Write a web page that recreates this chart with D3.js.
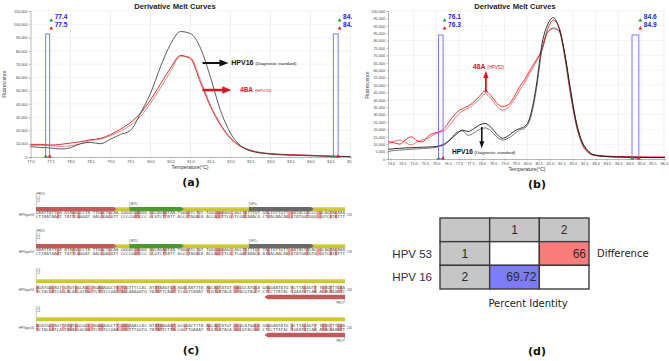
<!DOCTYPE html>
<html>
<head>
<meta charset="utf-8">
<script src="https://cdn.jsdelivr.net/npm/d3@7/dist/d3.min.js"></script>
<style>
  body { margin: 0; background: #fff; }
  svg { display: block; }
</style>
</head>
<body>
<div id="fig"></div>
<script>
// ---------- (a) melt curves, HPV16 standard vs 4BA ----------
const tempA = [77.0, 77.25, 77.5, 77.75, 78.0, 78.25, 78.5, 78.75, 79.0, 79.25, 79.5, 79.75, 80.0, 80.25, 80.5, 80.75, 81.0, 81.25, 81.5, 81.75, 82.0, 82.25, 82.5, 83.0, 83.5, 84.0, 84.5, 85.0];
const hpv16A = [7800, 7200, 6800, 6000, 7000, 10000, 11000, 10000, 13500, 17000, 20000, 33000, 48000, 68000, 85000, 94500, 93000, 82000, 60000, 35000, 18000, 8500, 4500, 2200, 1300, 900, 500, 300];
const hpv53A1 = [9500, 9500, 9000, 9500, 10500, 11500, 13000, 14000, 17000, 21000, 26000, 33000, 43000, 55000, 67000, 76500, 74000, 56000, 38000, 24000, 14000, 8000, 5000, 2500, 1800, 1300, 600, 300];
const hpv53A2 = [8800, 8800, 8500, 8000, 8500, 10000, 12500, 13500, 16000, 19500, 24000, 30500, 40500, 52000, 64500, 76000, 75000, 58000, 39000, 25000, 14500, 8500, 5200, 2400, 1600, 1200, 700, 300];
const cursorTempsA = [[77.38, 77.48], [84.57, 84.69]];
const cursorLabelsA = [["77.4", "77.5"], ["84.6", "84.7"]];

// ---------- (b) melt curves ----------
const tempB = [73.9, 74.15, 74.4, 74.65, 74.9, 75.15, 75.4, 75.65, 75.9, 76.15, 76.4, 76.65, 76.9, 77.15, 77.4, 77.65, 77.9, 78.15, 78.4, 78.65, 78.9, 79.15, 79.4, 79.65, 79.9, 80.15, 80.4, 80.65, 80.9, 81.15, 81.4, 81.65, 81.9, 82.15, 82.4, 82.65, 82.9, 83.4, 83.9, 84.4, 84.9, 85.4, 85.9, 86.05];
const hpv16B1 = [6500, 7000, 7200, 7500, 7600, 7800, 8000, 8100, 8300, 9000, 10500, 13500, 17000, 19500, 18500, 20500, 23000, 24000, 21500, 17000, 14000, 15500, 18500, 20500, 22000, 30000, 50000, 78000, 91000, 95500, 88000, 71000, 47000, 25000, 12000, 6000, 3000, 1800, 1400, 1200, 1100, 1000, 1000, 1000];
const hpv16B2 = [5000, 5800, 6000, 6300, 6600, 6800, 7000, 7300, 7600, 8500, 10000, 14000, 18000, 19000, 16000, 17500, 20000, 21000, 19000, 15000, 12800, 14000, 16500, 19500, 21000, 28000, 47000, 74000, 86000, 88500, 86500, 70000, 45000, 23000, 11000, 5500, 2800, 1600, 1300, 1100, 1000, 900, 900, 900];
const hpv53B1 = [11700, 11000, 10000, 13000, 15000, 12500, 11500, 15500, 17500, 18500, 21500, 27000, 31500, 34000, 35800, 38500, 42500, 46000, 43000, 38000, 35500, 36500, 41500, 48500, 54000, 61000, 67000, 74000, 88000, 93800, 89000, 70000, 45000, 25000, 11000, 5000, 2800, 2000, 1700, 1500, 1400, 1300, 1300, 1300];
const hpv53B2 = [10600, 12000, 12800, 11000, 9500, 11500, 13000, 14000, 16500, 18000, 19500, 24000, 29000, 32500, 34200, 37000, 40500, 44000, 41000, 36000, 33000, 34500, 39500, 46000, 52000, 59000, 66000, 74500, 85500, 88000, 86500, 68000, 43000, 23000, 10000, 4500, 2500, 1800, 1500, 1400, 1300, 1200, 1200, 1200];
const cursorTempsB = [[76.1, 76.3], [84.6, 84.9]];
const cursorLabelsB = [["76.1", "76.3"], ["84.6", "84.9"]];

// ---------- (c) alignment ----------
const seqNames = ["HPVtype53", "HPVtype53", "HPVtype53", "HPVtype16"];
const seqEnds = ["159", "159", "216", "216"];
const seqTop = [
  "GAATTATTCA ATAAGCCCTA TTGGCTGCAA GGGGCCAGGG GGCAGAATAA TGGGATCTGT TGGCGGAAGC AGCTATTTGT GACTGTTGTT GATACCACCC GCAGTACAAA",
  "GAATTATTCA ATAAGCCCTA TTGGCTGCAA GGGGCCAGGG GGCAGAATAA TGGGATCTGT TGGCGGAAGC AGCTATTTGT TACTGTTGTT GATACTACAC GCAGTACAAA",
  "AGATGGCAGT GTGTGGCAGC AGAGAGGCTA TGGTTTCCAC ATATAAGTCA AGGCAATTTA AGCAGTATGT GACGCATGGA GAGGAATATG ACTTACAGTT TGTGTTTCAA",
  "AGATGGCAGT ATGTGGCGCC AGAGAGGCTT GAGAAACCAC ATATAAGAAT GCGAACTTTA AGCAGTATGT GCGCATGGCG GAGGAATATG ACTTACAGTT TATGTTTCAA"
];
const seqMismatch = [
  [8, 14, 16, 25, 28, 38, 39, 44, 49, 58, 62, 69, 70, 71, 75, 80, 89, 97, 98, 104, 108, 109, 113, 115],
  [8, 14, 16, 25, 28, 38, 39, 44, 49, 58, 62, 69, 70, 71, 75, 80, 85, 89, 97, 98, 104, 108, 109, 113, 115],
  [0, 5, 6, 10, 12, 15, 19, 20, 21, 24, 25, 31, 32, 33, 34, 46, 47, 52, 53, 57, 66, 69, 70, 76, 77, 78, 84, 89, 98, 103, 107, 110, 111, 113, 116, 117],
  [0, 5, 6, 10, 12, 13, 15, 19, 20, 21, 24, 25, 31, 32, 33, 34, 35, 46, 47, 48, 52, 53, 57, 66, 69, 70, 76, 77, 78, 84, 85, 89, 98, 103, 107, 110, 111, 113, 116, 117]
];
const fwdFeatures = [
  { label: "PRO5", from: 0, to: 31, color: "#c25a5c" },
  { label: "MY11", from: 36, to: 57, color: "#4b9a2c" },
  { label: "GP5+", from: 82, to: 107, color: "#696969" }
];
const revFeature = { label: "PRO7", from: 88, to: 119, color: "#c25a5c" };

// ---------- (d) identity matrix ----------
const matCols = ["", "1", "2"];
const matRowNames = ["HPV 53", "HPV 16"];
const matRowIds = ["1", "2"];
const matValues = [[null, "66"], ["69.72", null]];

const svg = d3.select("#fig").append("svg")
  .attr("width", 669).attr("height", 361)
  .style("font-family", "'Liberation Sans', Arial, sans-serif");

function blockArrow(g, x1, y1, x2, y2, color, sw, hw, hl) {
  const L = Math.hypot(x2 - x1, y2 - y1), ux = (x2 - x1) / L, uy = (y2 - y1) / L;
  const px = -uy, py = ux, bx = x2 - ux * hl, by = y2 - uy * hl;
  const pts = [
    [x1 + px * sw / 2, y1 + py * sw / 2], [bx + px * sw / 2, by + py * sw / 2],
    [bx + px * hw / 2, by + py * hw / 2], [x2, y2],
    [bx - px * hw / 2, by - py * hw / 2], [bx - px * sw / 2, by - py * sw / 2],
    [x1 - px * sw / 2, y1 - py * sw / 2]];
  g.append("polygon").attr("points", pts.map(p => p.join(",")).join(" ")).attr("fill", color);
}

function tri(g, x, y, color) {
  g.append("path").attr("d", `M${x - 2},${y + 1.5}L${x + 2},${y + 1.5}L${x},${y - 1.8}Z`).attr("fill", color);
}

function meltChart(g, o) {
  const [y0, y1] = o.y.range();
  const [x0, x1] = o.x.range();
  g.append("text").attr("x", o.titleX).attr("y", 8.5).attr("text-anchor", "middle")
    .attr("font-size", 7.6).attr("font-weight", "bold").attr("fill", "#222").text("Derivative Melt Curves");

  // grid
  g.append("g").selectAll("line").data(o.gridX).join("line")
    .attr("x1", d => o.x(d)).attr("x2", d => o.x(d)).attr("y1", y1).attr("y2", y0)
    .attr("stroke", "#e8e8e8").attr("stroke-width", 0.6);
  g.append("g").selectAll("line").data(o.gridY).join("line")
    .attr("x1", x0).attr("x2", x1).attr("y1", d => o.y(d)).attr("y2", d => o.y(d))
    .attr("stroke", "#ededed").attr("stroke-width", 0.6);

  const ax = g.append("g").attr("transform", `translate(0,${y0})`)
    .call(d3.axisBottom(o.x).tickValues(o.xTicks).tickFormat(d3.format(".1f")).tickSize(1.5).tickPadding(1.5));
  const ay = g.append("g").attr("transform", `translate(${x0},0)`)
    .call(d3.axisLeft(o.y).tickValues(o.yTicks).tickFormat(d3.format(",")).tickSize(1.5).tickPadding(1.5));
  [ax, ay].forEach(a => {
    a.selectAll("text").attr("font-size", 3.8).attr("fill", "#444").attr("font-family", "'Liberation Sans', Arial");
    a.selectAll("line,path").attr("stroke", "#888").attr("stroke-width", 0.6);
  });

  g.append("text").attr("x", o.xTitleX).attr("y", y0 + 12).attr("text-anchor", "middle")
    .attr("font-size", 5).attr("fill", "#333").text("Temperature(°C)");
  g.append("text").attr("transform", `translate(${o.yTitleX},${(y0 + y1) / 2}) rotate(-90)`)
    .attr("text-anchor", "middle").attr("font-size", 4.5).attr("fill", "#333").text("Fluorescence");

  const line = d3.line().x(d => o.x(d[0])).y(d => o.y(d[1])).curve(d3.curveMonotoneX);
  o.series.forEach(s => {
    g.append("path").datum(d3.zip(o.temps, s.v)).attr("d", line)
      .attr("fill", "none").attr("stroke", s.color).attr("stroke-width", s.w || 0.9);
  });

  // melt cursors
  o.cursors.forEach((c, i) => {
    const xa = o.x(c[0]), xb = o.x(c[1]);
    g.append("rect").attr("x", xa).attr("y", o.boxTop).attr("width", xb - xa).attr("height", y0 - o.boxTop)
      .attr("fill", "none").attr("stroke", "#6a6aff").attr("stroke-width", 0.9);
    tri(g, xb + 1.5, 20, "#2ca02c");
    tri(g, xb + 1.5, 28, "#e02020");
    tri(g, xa, y0 - 1, "#2ca02c");
    tri(g, xb, y0 - 1, "#e02020");
    g.append("text").attr("x", xb + 5).attr("y", 18.5).attr("font-size", 6.6).attr("font-weight", "bold")
      .attr("fill", "#2323e6").text(o.cursorLabels[i][0]);
    g.append("text").attr("x", xb + 5).attr("y", 26.8).attr("font-size", 6.6).attr("font-weight", "bold")
      .attr("fill", "#2323e6").text(o.cursorLabels[i][1]);
  });
}

// ----- panel (a) -----
svg.append("defs").append("clipPath").attr("id", "clipA")
  .append("rect").attr("x", 0).attr("y", 0).attr("width", 352).attr("height", 176);
const gA = svg.append("g").attr("clip-path", "url(#clipA)");
const xA = d3.scaleLinear().domain([77, 85]).range([30.5, 350.5]);
const yA = d3.scaleLinear().domain([0, 110000]).range([157, 11]);
meltChart(gA, {
  x: xA, y: yA, temps: tempA, titleX: 175, xTitleX: 190, yTitleX: 6, boxTop: 34,
  xTicks: d3.range(77, 85.01, 0.5), yTicks: d3.range(0, 110001, 10000),
  gridX: d3.range(78, 85.01, 1), gridY: d3.range(10000, 110001, 10000),
  series: [
    { v: hpv53A2, color: "#e06666", w: 0.8 },
    { v: hpv53A1, color: "#c42424", w: 0.9 },
    { v: hpv16A, color: "#333", w: 0.8 }
  ],
  cursors: cursorTempsA, cursorLabels: cursorLabelsA
});
blockArrow(gA, xA(81.3), yA(70800), xA(81.95), yA(70800), "#111", 2, 7, 9);
blockArrow(gA, xA(81.3), yA(50500), xA(82.02), yA(50500), "#e0141e", 2.4, 7.5, 9);
gA.append("text").attr("x", xA(82.02)).attr("y", yA(69300)).attr("font-size", 7).attr("font-weight", "bold").attr("fill", "#111")
  .text("HPV16").append("tspan").attr("dx", 2).attr("font-size", 4.3).attr("font-weight", "normal").text("(Diagnostic standard)");
gA.append("text").attr("x", xA(82.24)).attr("y", yA(48600)).attr("font-size", 6.4).attr("font-weight", "bold").attr("fill", "#d01818")
  .text("4BA").append("tspan").attr("dx", 2).attr("font-size", 4.3).attr("font-weight", "normal").text("(HPV53)");

// ----- panel (b) -----
const gB = svg.append("g");
const xB = d3.scaleLinear().domain([73.88, 86.05]).range([388, 665]);
const yB = d3.scaleLinear().domain([0, 100000]).range([159, 11]);
meltChart(gB, {
  x: xB, y: yB, temps: tempB, titleX: 515, xTitleX: 527, yTitleX: 369, boxTop: 35,
  xTicks: d3.range(74, 86.01, 0.5), yTicks: d3.range(0, 100001, 5000),
  gridX: d3.range(75, 86.01, 1), gridY: d3.range(10000, 100001, 10000),
  series: [
    { v: hpv53B2, color: "#f05050", w: 0.8 },
    { v: hpv53B1, color: "#e8201c", w: 0.9 },
    { v: hpv16B2, color: "#555", w: 0.8 },
    { v: hpv16B1, color: "#1a1a1a", w: 0.9 }
  ],
  cursors: cursorTempsB, cursorLabels: cursorLabelsB
});
blockArrow(gB, xB(78.18), yB(45000), xB(78.18), yB(59500), "#e0141e", 1.8, 5.5, 7);
blockArrow(gB, xB(78.0), yB(21600), xB(78.0), yB(7200), "#111", 1.6, 5, 7);
gB.append("text").attr("x", xB(77.6)).attr("y", yB(60500)).attr("font-size", 7).attr("font-weight", "bold").attr("fill", "#d01818")
  .text("48A").append("tspan").attr("dx", 1.5).attr("font-size", 4.5).attr("font-weight", "normal").text("(HPV53)");
gB.append("text").attr("x", xB(76.69)).attr("y", yB(3400)).attr("font-size", 6.6).attr("font-weight", "bold").attr("fill", "#111")
  .text("HPV16").append("tspan").attr("dx", 1.5).attr("font-size", 4.3).attr("font-weight", "normal").text("(Diagnostic standard)");

// ----- panel labels -----
const panelLabels = [["(a)", 191, 186], ["(b)", 537, 188], ["(c)", 191, 354], ["(d)", 537, 355]];
svg.append("g").selectAll("text").data(panelLabels).join("text")
  .attr("x", d => d[1]).attr("y", d => d[2]).attr("text-anchor", "middle")
  .attr("font-family", "'DejaVu Sans', Verdana, sans-serif").attr("font-size", 11).attr("font-weight", "bold")
  .attr("fill", "#111").text(d => d[0]);

// ----- panel (c) -----
const comp = { A: "T", T: "A", G: "C", C: "G", " ": " " };
const seqX = d3.scaleLinear().domain([0, 119]).range([36, 345]);
const slotW = seqX(1) - seqX(0);
const barY = [209, 246, 281, 319];
const gC = svg.append("g").attr("font-family", "'DejaVu Sans Mono', monospace");

seqTop.forEach((s, i) => {
  const by = barY[i], fwd = i < 2;
  const t1 = fwd ? by + 4 : by + 6.5, t2 = t1 + 3.6;
  const g = gC.append("g");
  g.selectAll("rect").data(seqMismatch[i]).join("rect")
    .attr("x", d => seqX(d)).attr("width", slotW).attr("y", t1 - 2).attr("height", 7.4)
    .attr("fill", (d, k) => k % 3 === 1 ? "#f7b8b8" : "#f29a9a");
  // labels above the bar
  const tags = fwd ? ["PRO5", "L1", "L1"] : ["L1", "L1"];
  const tagTop = by - (fwd ? 16.5 : 13);
  g.append("line").attr("x1", seqX(0) + 0.3).attr("x2", seqX(0) + 0.3).attr("y1", tagTop).attr("y2", by)
    .attr("stroke", "#666").attr("stroke-width", 0.4);
  tags.forEach((tg, k) => {
    g.append("text").attr("x", seqX(0) + 1.2).attr("y", tagTop + 2.6 + k * 3.4).attr("font-size", 2.8)
      .attr("fill", "#444").attr("font-family", "'Liberation Sans', Arial").text(tg);
  });
  // main yellow feature
  g.append("rect").attr("x", seqX(0)).attr("y", by - 2).attr("width", seqX(119) - seqX(0)).attr("height", 4.2)
    .attr("fill", "#c9c62c");
  g.append("rect").attr("x", seqX(0)).attr("y", by - 2).attr("width", seqX(119) - seqX(0)).attr("height", 1.3)
    .attr("fill", "#dedb6a");
  if (fwd) {
    fwdFeatures.forEach((f, k) => {
      const xa = seqX(f.from), xb = seqX(f.to);
      g.append("path").attr("d", `M${xa},${by - 2}L${xb - 3},${by - 2}L${xb},${by + 0.1}L${xb - 3},${by + 2.2}L${xa},${by + 2.2}Z`)
        .attr("fill", f.color);
      if (k > 0) {
        g.append("line").attr("x1", xa + 0.3).attr("x2", xa + 0.3).attr("y1", by - 7).attr("y2", by - 2)
          .attr("stroke", "#666").attr("stroke-width", 0.4);
        g.append("text").attr("x", xa + 1.2).attr("y", by - 4.5).attr("font-size", 2.8)
          .attr("fill", "#444").attr("font-family", "'Liberation Sans', Arial").text(f.label);
      }
    });
  } else {
    const f = revFeature, xa = seqX(f.from), xb = seqX(f.to), ay = by + 16;
    g.append("path").attr("d", `M${xb},${ay - 2.2}L${xa + 3},${ay - 2.2}L${xa},${ay}L${xa + 3},${ay + 2.2}L${xb},${ay + 2.2}Z`)
      .attr("fill", f.color);
    g.append("line").attr("x1", xb - 0.3).attr("x2", xb - 0.3).attr("y1", ay + 2.2).attr("y2", ay + 5.5)
      .attr("stroke", "#666").attr("stroke-width", 0.4);
    g.append("text").attr("x", xb - 1).attr("y", ay + 7).attr("text-anchor", "end").attr("font-size", 2.8)
      .attr("fill", "#444").attr("font-family", "'Liberation Sans', Arial").text(f.label);
  }
  const bottom = s.split("").map(ch => comp[ch] || ch).join("");
  [[s, t1], [bottom, t2]].forEach(([str, ty]) => {
    g.append("text").attr("x", seqX(0)).attr("y", ty + 1.4).attr("font-size", 4.1)
      .attr("textLength", seqX(119) - seqX(0)).attr("lengthAdjust", "spacingAndGlyphs")
      .attr("fill", "#3a3a3a").text(str);
  });
  g.append("text").attr("x", 34).attr("y", (t1 + t2) / 2 + 1.2).attr("text-anchor", "end").attr("font-size", 3)
    .attr("fill", "#444").attr("font-family", "'Liberation Sans', Arial").text(seqNames[i]);
  g.append("text").attr("x", 347).attr("y", (t1 + t2) / 2 + 1.2).attr("font-size", 3)
    .attr("fill", "#444").attr("font-family", "'Liberation Sans', Arial").text(seqEnds[i]);
});

// ----- panel (d) -----
const gD = svg.append("g");
const colX = d3.scaleBand().domain(d3.range(3)).range([440, 589]);
const rowY = d3.scaleBand().domain(d3.range(3)).range([218, 289]);
const cells = [];
matCols.forEach((c, j) => cells.push({ r: 0, c: j, text: c, fill: "#c6c6c6", anchor: "middle" }));
matRowIds.forEach((id, i) => {
  cells.push({ r: i + 1, c: 0, text: id, fill: "#c6c6c6", anchor: "middle" });
  matValues[i].forEach((v, j) => {
    const fill = v === null ? "#fff" : (j > i ? "#fc7b7b" : "#7b7bfc");
    cells.push({ r: i + 1, c: j + 1, text: v || "", fill: fill, anchor: "end" });
  });
});
gD.selectAll("rect").data(cells).join("rect")
  .attr("x", d => colX(d.c)).attr("y", d => rowY(d.r))
  .attr("width", colX.bandwidth()).attr("height", rowY.bandwidth())
  .attr("fill", d => d.fill).attr("stroke", "#3c3c3c").attr("stroke-width", 1.4);
gD.selectAll("text.cell").data(cells).join("text").attr("class", "cell")
  .attr("x", d => d.anchor === "end" ? colX(d.c) + colX.bandwidth() - 3 : colX(d.c) + colX.bandwidth() / 2)
  .attr("y", d => rowY(d.r) + rowY.bandwidth() / 2 + 4.2)
  .attr("text-anchor", d => d.anchor).attr("font-size", 12).attr("fill", "#2a2a2a")
  .text(d => d.text);
gD.selectAll("text.row").data(matRowNames).join("text").attr("class", "row")
  .attr("x", 432).attr("y", (d, i) => rowY(i + 1) + rowY.bandwidth() / 2 + 4.2)
  .attr("text-anchor", "end").attr("font-size", 11.5).attr("fill", "#2c2c4c")
  .text(d => d);
gD.append("text").attr("x", 597).attr("y", rowY(1) + rowY.bandwidth() / 2 + 3.8)
  .attr("font-family", "'DejaVu Sans', Verdana, sans-serif").attr("font-size", 10).attr("fill", "#222").text("Difference");
gD.append("text").attr("x", 528).attr("y", 306.5).attr("text-anchor", "middle")
  .attr("font-family", "'DejaVu Sans', Verdana, sans-serif").attr("font-size", 10).attr("fill", "#222").text("Percent Identity");
</script>
</body>
</html>
